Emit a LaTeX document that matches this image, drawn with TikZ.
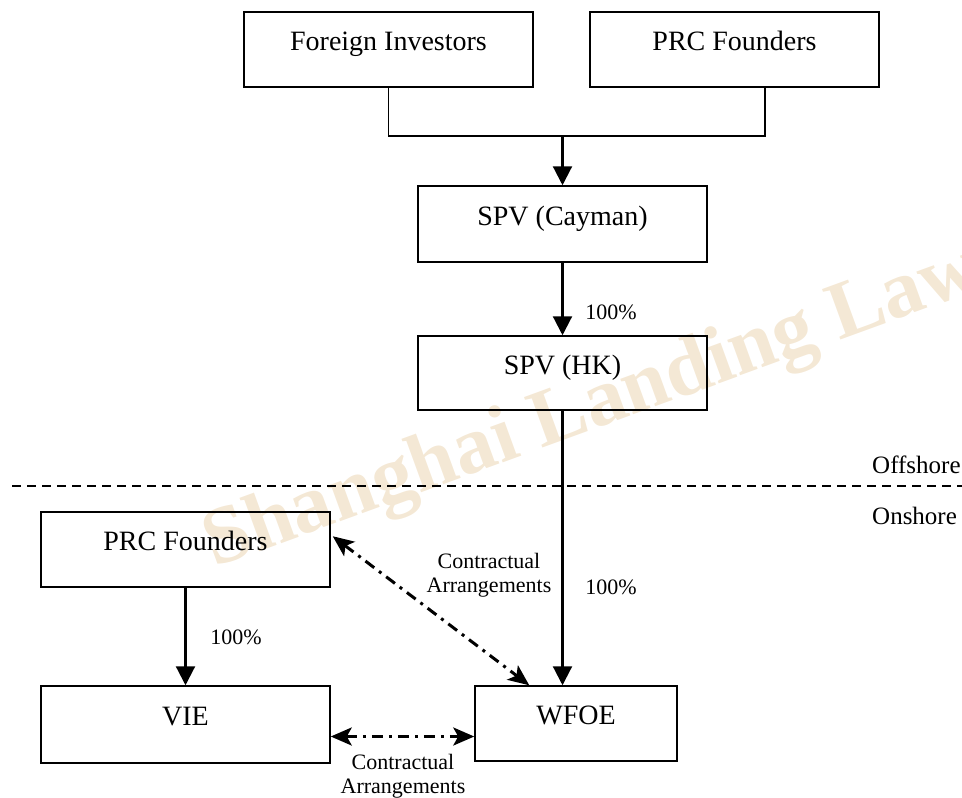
\documentclass[tikz,border=0pt]{standalone}
\usepackage{fontspec}
\setmainfont{Liberation Serif}
\usetikzlibrary{arrows.meta,calc}
\definecolor{wmark}{RGB}{244,232,213}
\tikzset{
  entity/.style={draw, line width=1.5pt, rectangle, minimum height=75pt, minimum width=289pt,
    inner sep=0pt, font=\fontsize{28}{30}\selectfont, text height=12pt, text depth=10pt},
  own/.style={line width=2.2pt, -{Triangle[length=19pt,width=19pt]}},
  contract/.style={line width=3pt, dash pattern=on 11pt off 6pt on 3pt off 6pt,
    {Stealth[length=21pt,width=18pt,inset=5pt]}-{Stealth[length=21pt,width=18pt,inset=5pt]}},
  lbl/.style={font=\fontsize{22}{26}\selectfont, inner sep=0pt},
  shore/.style={font=\fontsize{25}{26}\selectfont, inner sep=0pt, anchor=west},
}
\begin{document}
\begin{tikzpicture}[x=1pt, y=-1pt]
\useasboundingbox (0,0) rectangle (962,798);
% watermark
\node[wmark, font=\fontsize{82}{82}\selectfont\bfseries, rotate=20, anchor=base west, inner sep=0pt]
  (wm) at (214,568) {Shanghai Landing Law};
% entities
\node[entity] (fi) at (388.5,49.5) {Foreign Investors};
\node[entity] (prcA) at (734.5,49.5) {PRC Founders};
\node[entity, minimum height=76pt] (cay) at (562.5,224) {SPV (Cayman)};
\node[entity, minimum height=74pt] (hk) at (562.5,373) {SPV (HK)};
\node[entity] (prcB) at (185.5,549.5) {PRC Founders};
\node[entity, minimum height=77pt] (vie) at (185.5,724.5) {VIE};
\node[entity, minimum width=202pt] (wfoe) at (576,723.5) {WFOE};
% offshore / onshore divider
\coordinate (dl) at (12,486);
\coordinate (dr) at (962,486);
\draw[line width=2pt, dash pattern=on 9pt off 6pt] (dl) -- (dr);
\node[shore] (off) at (872,465) {Offshore};
\node[shore] (on) at (872,516) {Onshore};
% shareholders to Cayman
\coordinate (j) at (562.5,136);
\coordinate (prcAb) at ($(prcA.south)+(30.5,0)$);
\draw[line width=1.5pt] (fi.south) |- (j) -| (prcAb);
\draw[own] (j) -- (cay.north);
\draw[own] (cay.south) -- (hk.north);
\node[lbl] (p1) at (611,312) {100\%};
\draw[own] (hk.south) -- (hk.south |- wfoe.north);
\node[lbl] (p2) at (611,587) {100\%};
\draw[own] (prcB.south) -- (vie.north);
\node[lbl] (p3) at (236,637) {100\%};
% contractual arrangements
\coordinate (ca1) at ($(prcB.north east)+(2,25)$);
\coordinate (ca2) at ($(wfoe.north west)+(55,0)$);
\draw[contract] (ca1) -- (ca2);
\node[lbl, align=center] (c1) at (489,575) {Contractual\\[-2pt]Arrangements};
\coordinate (cb1) at ($(vie.east)+(0,12)$);
\draw[contract] (cb1) -- (cb1 -| wfoe.west);
\node[lbl, align=center] (c2) at (403,776) {Contractual\\[-2pt]Arrangements};
\end{tikzpicture}
\end{document}
